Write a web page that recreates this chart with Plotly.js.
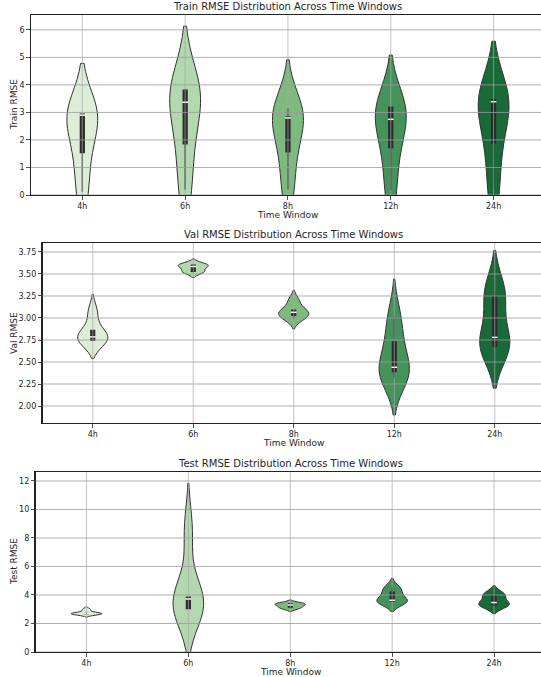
<!DOCTYPE html>
<html><head><meta charset="utf-8">
<script src="https://cdn.plot.ly/plotly-3.0.1.min.js"></script>
<style>html,body{margin:0;padding:0;overflow:hidden;background:#fff}#chart{width:545px;height:677px}</style>
</head><body><div id="chart"></div>
<script>
const categories = ['4h', '6h', '8h', '12h', '24h'];

const train_4h  = [0.12, 1.54, 2.90, 2.94, 2.96];
const train_6h  = [0.20, 1.86, 3.37, 3.81, 3.85];
const train_8h  = [0.20, 1.57, 2.80, 2.84, 3.14];
const train_12h = [0.18, 1.72, 2.75, 3.19, 3.22];
const train_24h = [0.22, 1.89, 3.39, 3.47, 3.50];

const val_4h  = [2.74, 2.745, 2.785, 2.86, 3.07];
const val_6h  = [3.52, 3.53, 3.585, 3.60, 3.61];
const val_8h  = [2.99, 3.03, 3.065, 3.09, 3.20];
const val_12h = [2.32, 2.39, 2.44, 2.73, 3.02];
const val_24h = [2.66, 2.68, 2.78, 3.24, 3.31];

const test_4h  = [2.65, 2.68, 2.70, 2.72, 2.98];
const test_6h  = [3.00, 3.04, 3.72, 3.86, 8.50];
const test_8h  = [3.05, 3.15, 3.30, 3.38, 3.42];
const test_12h = [3.50, 3.56, 3.63, 4.21, 4.52];
const test_24h = [3.25, 3.29, 3.47, 3.95, 4.10];

const trainTicks = [0, 1, 2, 3, 4, 5, 6];
const valTicks = [2.00, 2.25, 2.50, 2.75, 3.00, 3.25, 3.50, 3.75];
const testTicks = [0, 2, 4, 6, 8, 10, 12];

const titles = ['Train RMSE Distribution Across Time Windows', 'Val RMSE Distribution Across Time Windows', 'Test RMSE Distribution Across Time Windows'];
const yLabels = ['Train RMSE', 'Val RMSE', 'Test RMSE'];
const xLabel = 'Time Window';

const palette = ['#ddedd8', '#b3d7ae', '#7eba80', '#44935b', '#196a38'];

const panels = [
  {series: [train_4h, train_6h, train_8h, train_12h, train_24h], ticks: trainTicks, range: [0, 6.54], fmt: '', xdom: 30.9, ydom: [15, 195]},
  {series: [val_4h, val_6h, val_8h, val_12h, val_24h], ticks: valTicks, range: [1.807, 3.852], fmt: '.2f', xdom: 42.5, ydom: [243, 423]},
  {series: [test_4h, test_6h, test_8h, test_12h, test_24h], ticks: testTicks, range: [0, 12.63], fmt: '', xdom: 35.5, ydom: [472, 652]}
];

const W = 545, H = 677;
const FONT = 'DejaVu Sans, sans-serif';
const INK = '#262626';

function scottBW(v) {
  const n = v.length;
  const m = v.reduce((a, b) => a + b, 0) / n;
  const s = Math.sqrt(v.reduce((a, b) => a + (b - m) * (b - m), 0) / (n - 1));
  return s * Math.pow(n, -0.2);
}
function median(v) {
  const s = v.slice().sort((a, b) => a - b);
  const n = s.length;
  return n % 2 ? s[(n - 1) / 2] : (s[n / 2 - 1] + s[n / 2]) / 2;
}

const data = [];
const layout = {
  width: W, height: H,
  margin: {l: 0, r: 0, t: 0, b: 0},
  paper_bgcolor: '#fff', plot_bgcolor: '#fff',
  showlegend: false,
  violinmode: 'overlay',
  font: {family: FONT, color: INK},
  annotations: [], shapes: []
};

panels.forEach((p, k) => {
  const sfx = k === 0 ? '' : String(k + 1);
  const xa = 'x' + sfx, ya = 'y' + sfx;
  p.series.forEach((vals, i) => {
    data.push({
      type: 'violin', xaxis: xa, yaxis: ya,
      x: vals.map(() => categories[i]), y: vals,
      width: 0.3, scalemode: 'width', spanmode: 'soft',
      quartilemethod: 'inclusive',
      bandwidth: scottBW(vals), points: false,
      fillcolor: palette[i], opacity: 1,
      line: {color: '#333333', width: 1},
      box: {visible: true, width: 0.13, fillcolor: '#2a2a2a', line: {color: '#2a2a2a', width: 1.2}},
      meanline: {visible: false}, hoverinfo: 'skip'
    });
  });
  data.push({
    type: 'scatter', mode: 'markers', xaxis: xa, yaxis: ya,
    x: categories, y: p.series.map(median),
    marker: {symbol: 'line-ew', size: 4, line: {color: '#ffffff', width: 1.5}},
    hoverinfo: 'skip', cliponaxis: false
  });

  layout['xaxis' + sfx] = {
    domain: [p.xdom / W, 1], anchor: ya,
    type: 'category', categoryorder: 'array', categoryarray: categories,
    range: [-0.5, 4.5], showgrid: false, zeroline: false,
    showline: true, mirror: true, linecolor: '#222', linewidth: 1.1,
    ticks: 'outside', ticklen: 3.5, tickwidth: 0.8, tickcolor: '#222',
    tickfont: {family: FONT, size: 8, color: INK}, fixedrange: true
  };
  layout['yaxis' + sfx] = {
    domain: [1 - p.ydom[1] / H, 1 - p.ydom[0] / H], anchor: xa,
    range: p.range, tickmode: 'array', tickvals: p.ticks,
    ticktext: p.ticks.map(t => p.fmt ? t.toFixed(2) : String(t)),
    showgrid: false, zeroline: false,
    showline: true, mirror: true, linecolor: '#222', linewidth: 1.1,
    ticks: 'outside', ticklen: 3.5, tickwidth: 0.8, tickcolor: '#222',
    tickfont: {family: FONT, size: 8, color: INK}, fixedrange: true
  };

  // grid lines drawn above the violins, as in the reference
  p.ticks.forEach(t => {
    layout.shapes.push({type: 'line', layer: 'above', xref: xa + ' domain', yref: ya,
      x0: 0, x1: 1, y0: t, y1: t, line: {color: 'rgba(155,155,155,0.8)', width: 1}});
  });
  categories.forEach(c => {
    layout.shapes.push({type: 'line', layer: 'above', xref: xa, yref: ya + ' domain',
      x0: c, x1: c, y0: 0, y1: 1, line: {color: 'rgba(170,170,170,0.7)', width: 1}});
  });

  layout.annotations.push({
    text: titles[k], xref: xa + ' domain', yref: ya + ' domain', x: 0.5, y: 1,
    xanchor: 'center', yanchor: 'bottom', yshift: 1, showarrow: false,
    font: {family: FONT, size: 10, color: INK}
  });
  layout.annotations.push({
    text: xLabel, xref: xa + ' domain', yref: ya + ' domain', x: 0.5, y: 0,
    xanchor: 'center', yanchor: 'top', yshift: -13, showarrow: false,
    font: {family: FONT, size: 9, color: INK}
  });
  layout.annotations.push({
    text: yLabels[k], xref: 'paper', yref: ya + ' domain', x: 14 / W, y: 0.5,
    xanchor: 'center', yanchor: 'middle', textangle: -90, showarrow: false,
    font: {family: FONT, size: 9, color: INK}
  });
});

Plotly.newPlot('chart', data, layout, {displayModeBar: false, staticPlot: true});
</script>
</body></html>
